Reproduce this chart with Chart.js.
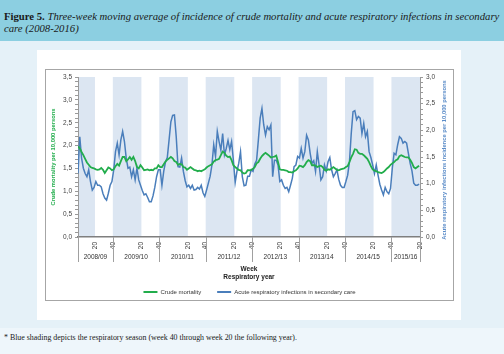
<!DOCTYPE html>
<html>
<head>
<meta charset="utf-8">
<script src="https://cdn.jsdelivr.net/npm/chart.js@4/dist/chart.umd.min.js"></script>
<style>
  body { margin: 0; width: 504px; height: 354px; background: #e5f1f8; position: relative; overflow: hidden; }
  #head { position: absolute; left: 0; top: 0; width: 504px; height: 41px; background: #8ccfe1;
          font-family: "Liberation Serif", serif; font-size: 10.7px; line-height: 12px; color: #1a1a1a;
          box-sizing: border-box; padding: 10px 0 0 4px; }
  #head i { font-style: italic; }
  #panel { position: absolute; left: 37px; top: 50px; width: 424px; height: 270px; background: #fff; }
  #box { position: absolute; left: 45px; top: 69px; width: 407px; height: 230px; border: 1px solid #a6a6a6; background: #fff; }
  #box canvas { display: block; }
  #foot { position: absolute; left: 0; top: 328px; width: 504px; height: 26px; background: #eef6fb;
          font-family: "Liberation Serif", serif; font-size: 7.9px; color: #1a1a1a; box-sizing: border-box; padding: 5px 0 0 4px; }
</style>
</head>
<body>
<div id="head"><b>Figure 5.</b> <i>Three-week moving average of incidence of crude mortality and acute respiratory infections in secondary care (2008-2016)</i></div>
<div id="panel"></div>
<div id="box"><canvas id="chart" width="407" height="230"></canvas></div>
<div id="foot">* Blue shading depicts the respiratory season (week 40 through week 20 the following year).</div>
<script>
// x positions: week index from week 1 of 2009, one value every 2 weeks
const weeks = Array.from({length: 192}, (_, i) => i * 2);

// Crude mortality per 10,000 persons (left axis), one row per year
const mortality = [
  1.98,1.94,1.86,1.79,1.71,1.63,1.58,1.53,1.51,1.50,1.48,1.47,1.48,1.51,1.47,1.40,1.46,1.52,1.50,1.46,1.48,1.55,1.60,1.56,1.66,1.75,
  1.75,1.66,1.70,1.75,1.69,1.75,1.66,1.53,1.50,1.57,1.52,1.46,1.47,1.48,1.46,1.47,1.46,1.50,1.50,1.57,1.53,1.53,1.59,1.65,1.69,1.72,
  1.75,1.72,1.66,1.64,1.58,1.60,1.59,1.53,1.52,1.47,1.50,1.53,1.50,1.47,1.46,1.44,1.45,1.44,1.46,1.48,1.52,1.55,1.57,1.59,1.65,1.68,
  1.69,1.71,1.79,1.87,1.84,1.78,1.75,1.76,1.68,1.57,1.53,1.50,1.47,1.46,1.41,1.39,1.40,1.46,1.46,1.47,1.49,1.53,1.61,1.64,1.71,1.77,
  1.81,1.84,1.81,1.78,1.74,1.75,1.76,1.78,1.64,1.48,1.47,1.47,1.46,1.45,1.42,1.42,1.41,1.44,1.46,1.50,1.56,1.55,1.53,1.57,1.64,1.68,
  1.66,1.57,1.57,1.56,1.53,1.55,1.56,1.53,1.47,1.45,1.48,1.47,1.50,1.53,1.50,1.47,1.46,1.48,1.49,1.50,1.53,1.55,1.64,1.74,1.82,1.92,
  1.91,1.84,1.82,1.82,1.79,1.75,1.71,1.64,1.55,1.48,1.45,1.44,1.42,1.41,1.40,1.42,1.46,1.50,1.53,1.58,1.61,1.64,1.68,1.70,1.77,1.79,
  1.77,1.75,1.74,1.74,1.69,1.62,1.53,1.50,1.53,1.56
];

// Acute respiratory infections in secondary care per 10,000 persons (right axis)
const ari = [
  1.19,1.88,1.48,1.29,1.19,1.13,1.26,1.04,0.88,0.93,1.04,0.97,0.97,0.94,0.81,0.73,0.69,0.82,0.97,1.04,1.26,1.60,1.76,1.54,1.82,1.98,
  1.79,1.48,1.29,1.31,1.13,1.26,1.07,1.29,1.07,0.97,0.87,0.79,0.81,0.74,0.66,0.66,0.77,0.93,1.13,1.26,1.26,0.97,1.23,1.41,1.49,1.82,
  2.16,2.28,2.29,1.88,1.32,1.31,1.48,1.23,1.06,0.94,0.97,0.91,0.97,0.88,0.89,0.93,0.90,0.97,0.83,0.76,0.88,1.01,1.14,1.35,1.73,1.51,
  1.98,1.79,1.63,1.94,1.54,1.66,1.81,1.64,1.79,1.44,1.02,1.23,1.38,1.60,1.13,0.96,0.97,1.14,1.14,1.26,1.23,1.37,1.44,1.82,2.23,2.41,
  2.10,1.91,2.07,2.01,2.10,1.13,1.44,1.44,1.35,1.04,1.07,0.97,0.91,0.93,0.85,0.97,1.10,1.32,1.35,1.51,1.48,1.66,1.48,1.60,1.91,1.82,
  1.57,1.38,1.43,1.23,1.60,1.35,1.07,1.13,1.35,1.24,1.41,1.49,1.26,1.13,1.19,1.26,1.08,0.97,0.93,0.93,1.04,1.16,1.41,1.94,2.35,2.37,
  2.20,2.26,2.23,1.94,2.13,1.88,1.98,1.60,1.49,1.35,1.19,1.35,1.16,0.99,0.88,0.79,0.93,0.85,0.81,0.91,1.29,1.57,1.54,1.73,1.88,1.85,
  1.76,1.79,1.76,1.57,1.38,1.24,1.01,0.97,0.97,0.99
];

// x-axis ticks (week 20 / week 40 of each year)
const tickWeeks = [19, 39, 71, 91, 123, 143, 175, 195, 227, 247, 279, 299, 331, 351, 383];
const tickLabels = ['20', '40', '20', '40', '20', '40', '20', '40', '20', '40', '20', '40', '20', '40', '20'];

// respiratory years and shaded seasons (week 40 -> week 20)
const seasons = ['2008/09', '2009/10', '2010/11', '2011/12', '2012/13', '2013/14', '2014/15', '2015/16'];
const seasonStarts = [39, 91, 143, 195, 247, 299, 351];
const shadeFrom = [0, 39, 91, 143, 195, 247, 299, 351];
const shadeTo = [19, 71, 123, 175, 227, 279, 331, 383];

const rightTitle = 'Acute respiratory infections incidence per 10,000 persons';

const green = '#22ad4c';
const blue = '#4a7ebb';

Chart.defaults.font.family = '"Liberation Sans", Arial, sans-serif';

const seasonPlugin = {
  id: 'seasons',
  beforeDraw(chart) {
    const {ctx, chartArea, scales: {x}} = chart;
    ctx.save();
    ctx.fillStyle = '#dce6f2';
    shadeFrom.forEach((s, i) => {
      const x0 = x.getPixelForValue(s);
      const x1 = x.getPixelForValue(shadeTo[i]);
      ctx.fillRect(x0, chartArea.top, x1 - x0, chartArea.bottom - chartArea.top);
    });
    ctx.restore();
  },
  afterDraw(chart) {
    const {ctx, chartArea, scales: {x, y1}} = chart;
    const edges = [x.min, ...seasonStarts, x.max];
    ctx.save();
    ctx.strokeStyle = '#a0a0a0';
    ctx.lineWidth = 1;
    edges.forEach(e => {
      const px = Math.round(x.getPixelForValue(e)) + 0.5;
      ctx.beginPath();
      ctx.moveTo(px, x.top);
      ctx.lineTo(px, x.top + 25);
      ctx.stroke();
    });
    ctx.fillStyle = '#333';
    ctx.font = '6.5px "Liberation Sans", Arial, sans-serif';
    ctx.textAlign = 'center';
    ctx.textBaseline = 'middle';
    seasons.forEach((s, i) => {
      const mid = (x.getPixelForValue(edges[i]) + x.getPixelForValue(edges[i + 1])) / 2;
      ctx.fillText(s, mid, x.top + 20);
    });
    // right axis title, reading bottom to top like the left one
    ctx.translate(y1.right - 9, (chartArea.top + chartArea.bottom) / 2 + 3);
    ctx.rotate(-Math.PI / 2);
    ctx.fillStyle = '#5b8cc8';
    ctx.font = 'bold 5.8px "Liberation Sans", Arial, sans-serif';
    ctx.fillText(rightTitle, 0, 0);
    ctx.restore();
  }
};

const legendHeight = {
  id: 'legendHeight',
  beforeInit(chart) {
    const fit = chart.legend.fit;
    chart.legend.fit = function () { fit.call(this); this.height = 27; };
  }
};

function halfStep(v) {
  return Math.abs(v * 2 - Math.round(v * 2)) < 1e-6;
}

new Chart(document.getElementById('chart'), {
  type: 'line',
  data: {
    datasets: [
      {
        label: 'Crude mortality',
        data: weeks.map((w, i) => ({x: w, y: mortality[i]})),
        borderColor: green,
        backgroundColor: green,
        borderWidth: 1.8,
        pointRadius: 0,
        yAxisID: 'y'
      },
      {
        label: 'Acute respiratory infections in secondary care',
        data: weeks.map((w, i) => ({x: w, y: ari[i]})),
        borderColor: blue,
        backgroundColor: blue,
        borderWidth: 1.5,
        pointRadius: 0,
        yAxisID: 'y1'
      }
    ]
  },
  options: {
    responsive: false,
    animation: false,
    layout: { padding: { top: 7, left: 0, right: 0, bottom: 0 } },
    plugins: {
      tooltip: { enabled: false },
      legend: {
        position: 'bottom',
        labels: {
          boxWidth: 14,
          boxHeight: 2,
          padding: 16,
          color: '#333',
          font: { size: 6 },
          generateLabels(chart) {
            return Chart.defaults.plugins.legend.labels.generateLabels(chart)
              .map(l => Object.assign(l, { fillStyle: l.strokeStyle, lineWidth: 0 }));
          }
        }
      }
    },
    scales: {
      x: {
        type: 'linear',
        min: 0,
        max: 383,
        afterBuildTicks(s) { s.ticks = tickWeeks.map(v => ({ value: v })); },
        afterFit(s) { s.height = 36; },
        grid: { drawOnChartArea: false, drawTicks: false },
        border: { color: '#7f7f7f', width: 1.5 },
        ticks: {
          autoSkip: false,
          minRotation: 90,
          maxRotation: 90,
          padding: 5,
          color: '#333',
          font: { size: 6.5 },
          callback: (v, i) => tickLabels[i]
        },
        title: {
          display: true,
          text: ['Week', 'Respiratory year'],
          color: '#222',
          font: { size: 6.5, weight: 'bold', lineHeight: '8px' },
          padding: { top: 0, bottom: -8 }
        }
      },
      y: {
        position: 'left',
        min: 0,
        max: 3.5,
        afterFit(s) { s.width = 32; },
        grid: { drawOnChartArea: false, tickLength: 3, color: '#9a9a9a' },
        border: { color: '#9a9a9a' },
        ticks: {
          stepSize: 0.1,
          autoSkip: false,
          padding: 3,
          color: '#444',
          font: { size: 6.5 },
          callback: v => halfStep(v) ? v.toFixed(1).replace('.', ',') : ''
        },
        title: {
          display: true,
          text: 'Crude mortality per 10,000 persons',
          color: green,
          font: { size: 5.8, weight: 'bold' },
          padding: { top: 4, bottom: 0 }
        }
      },
      y1: {
        position: 'right',
        min: 0,
        max: 3.0,
        afterFit(s) { s.width = 33; },
        grid: { drawOnChartArea: false, tickLength: 3, color: '#9a9a9a' },
        border: { color: '#9a9a9a' },
        ticks: {
          stepSize: 0.1,
          autoSkip: false,
          padding: 3,
          color: '#444',
          font: { size: 6.5 },
          callback: v => halfStep(v) ? v.toFixed(1).replace('.', ',') : ''
        }
      }
    }
  },
  plugins: [seasonPlugin, legendHeight]
});
</script>
</body>
</html>
